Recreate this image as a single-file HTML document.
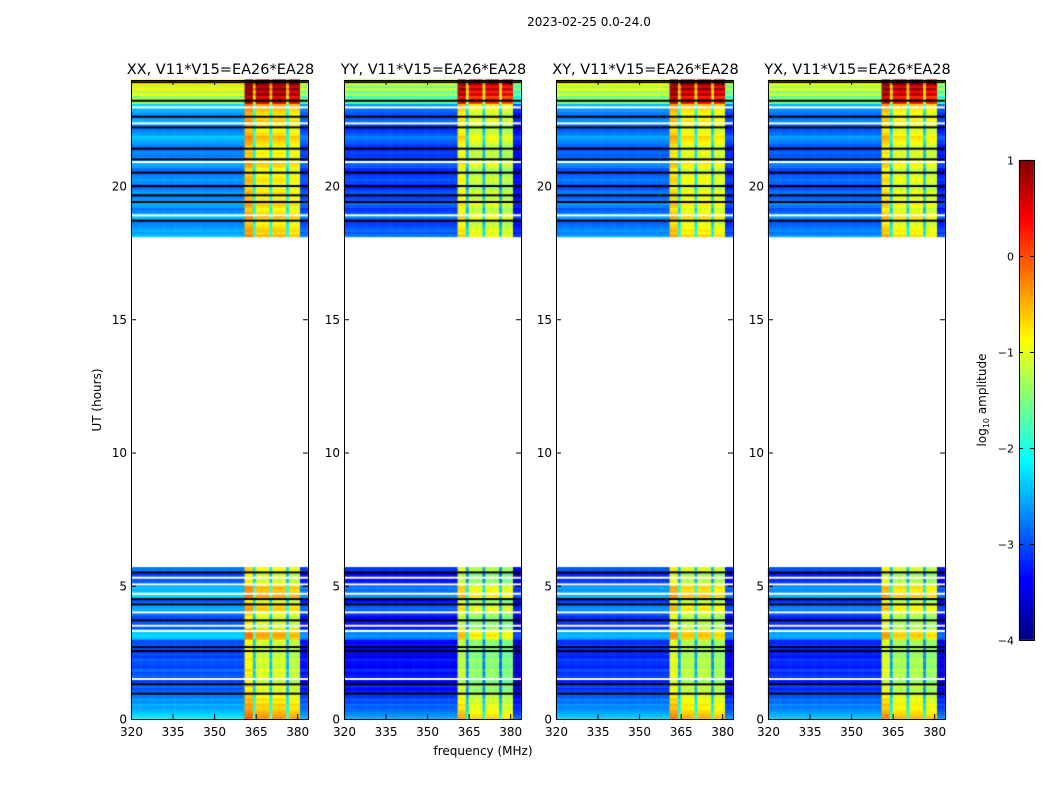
<!DOCTYPE html>
<html><head><meta charset="utf-8"><style>
body{margin:0;background:#fff;width:1050px;height:800px;overflow:hidden;position:relative;font-family:"DejaVu Sans","Liberation Sans",sans-serif}
canvas{position:absolute;left:0;top:0}
svg{position:absolute;left:0;top:0;font-family:"DejaVu Sans","Liberation Sans",sans-serif}
</style></head><body>
<canvas id="cv" width="1050" height="800"></canvas>
<svg id="sv" width="1050" height="800"></svg>
<script>
// ---- data ----
const panelTitles = ["XX, V11*V15=EA26*EA28","YY, V11*V15=EA26*EA28","XY, V11*V15=EA26*EA28","YX, V11*V15=EA26*EA28"];
const panelOffset = [0.0, -0.35, -0.15, -0.2];
const freqStart = 320;
const colProfile = [];
for (let f = 320; f < 384; f++) {
  let v = -2.9;
  if (f >= 361 && f <= 363) v = -0.75;
  else if (f === 364) v = -2.3;
  else if (f >= 365 && f <= 369) v = -1.0;
  else if (f === 370) v = -2.3;
  else if (f >= 371 && f <= 375) v = -1.0;
  else if (f === 376) v = -2.4;
  else if (f >= 377 && f <= 380) v = -1.1;
  else if (f >= 381) v = -3.2;
  colProfile.push(v);
}
// row offsets, 0.1 hr steps from 0.0 to 5.7
const lowRows = [0.7,0.6,0.5,0.4,0.3,0.4,0.2,0.3,0.1,0.2,0.0,-0.1,0.1,-0.1,-0.2,-0.1,0.0,-0.1,0.1,-0.2,-0.1,-0.1,0.0,-0.2,-0.1,-0.3,-0.1,0.0,-0.1,-0.1,0.5,0.6,0.5,0.4,-0.1,-0.2,0.0,-0.1,-0.1,0.1,0.3,0.4,0.3,0.2,-0.1,0.5,0.6,0.5,0.4,0.5,0.1,0.0,-0.1,0.0,-0.2,0.2,0.1];
// row offsets, 0.1 hr steps from 18.1 to 24.0
const highRows = [0.5,0.3,0.4,0.3,0.2,0.1,0.3,0.5,0.4,0.2,0.1,0.3,0.4,0.3,0.2,0.1,0.3,0.2,0.0,0.1,0.2,0.3,0.2,0.1,0.0,0.1,0.3,0.4,0.2,0.3,0.1,0.2,0.1,0.0,0.2,0.3,0.4,0.5,0.3,0.2,0.1,0.3,0.2,0.4,0.3,0.2,0.3,0.4,0.5,0.6,1.5,1.9,1.4,2.0,1.6,2.1,1.7,2.2,2.0];
const blackRows = [0.95,1.3,2.55,2.7,3.7,4.3,4.5,5.5,18.7,19.4,19.65,20.0,20.5,21.0,21.4,22.2,22.6,23.2,23.9];
const whiteRows = [1.5,3.3,3.5,4.0,4.7,5.05,5.3,18.9,20.9,22.35,22.95];
const yTicks = [0,5,10,15,20];
const xTicks = [320,335,350,365,380];
const cbTicks = [1,0,-1,-2,-3,-4];

// ---- geometry ----
const panelX = [131,344,556,768], PW = 177, TOP = 80, BOT = 719;
const pxPerHr = 26.65, pxPerMHz = 2.77;
const yT = t => BOT - t*pxPerHr;
const xF = (p,f) => panelX[p] + (f-freqStart)*pxPerMHz;
const CB = {x:1019, w:15, top:160, bot:640, vmax:1, vmin:-4};
const yCB = v => CB.top + (CB.vmax - v)/(CB.vmax-CB.vmin)*(CB.bot-CB.top);

function jet(v){
  let x = (v - CB.vmin)/(CB.vmax-CB.vmin); x = Math.max(0,Math.min(1,x));
  const c = t => Math.max(0,Math.min(1,t));
  const r = c(Math.min(4*x-1.5, -4*x+4.5)), g = c(Math.min(4*x-0.5,-4*x+3.5)), b = c(Math.min(4*x+0.5,-4*x+2.5));
  return `rgb(${Math.round(r*255)},${Math.round(g*255)},${Math.round(b*255)})`;
}

const ctx = document.getElementById('cv').getContext('2d');
function drawBlock(p, rows, t0){
  rows.forEach((rv,i)=>{
    const ta = t0 + i*0.1, tb = ta + 0.1;
    colProfile.forEach((cv,j)=>{
      const f = freqStart + j;
      ctx.fillStyle = jet(cv + rv + panelOffset[p]);
      const x0 = xF(p,f), x1 = Math.min(xF(p,f+1), panelX[p]+PW);
      ctx.fillRect(x0, yT(tb), x1-x0+0.5, yT(ta)-yT(tb)+0.5);
    });
  });
  blackRows.forEach(t=>{ if(t>=t0 && t<=t0+rows.length*0.1){ctx.fillStyle='#000';ctx.fillRect(panelX[p],yT(t)-1,PW,2);} });
  whiteRows.forEach(t=>{ if(t>=t0 && t<=t0+rows.length*0.1){ctx.fillStyle='#fff';ctx.fillRect(panelX[p],yT(t)-1,PW,2);} });
}
for(let p=0;p<4;p++){ drawBlock(p, lowRows, 0); drawBlock(p, highRows, 18.1); }
for(let y=CB.top;y<CB.bot;y++){ ctx.fillStyle = jet(CB.vmax - (y-CB.top+0.5)/(CB.bot-CB.top)*(CB.vmax-CB.vmin)); ctx.fillRect(CB.x,y,CB.w,1); }

// ---- overlay ----
const sv = document.getElementById('sv'), NS='http://www.w3.org/2000/svg';
function mk(tag, attrs, parent, text){
  const e = document.createElementNS(NS, tag);
  for(const k in attrs) e.setAttribute(k, attrs[k]);
  if(text!==undefined) e.textContent = text;
  (parent||sv).appendChild(e); return e;
}
let t = mk('text',{x:589,y:26,'font-size':12,'text-anchor':'middle'},sv,'2023-02-25 0.0-24.0');
 
for(let p=0;p<4;p++){
  const g = mk('g',{});
  
  
  const fr = mk('rect',{x:panelX[p]+0.5,y:TOP+0.5,width:PW,height:BOT-TOP,fill:'none',stroke:'#000','stroke-width':1},g);
  
  
  const tt = mk('text',{x:panelX[p]+PW/2+1,y:74,'font-size':14.5,'text-anchor':'middle'},g,panelTitles[p]);
  
  
  yTicks.forEach(v=>{
    const y = yT(v)+0.5;
    mk('line',{x1:panelX[p],x2:panelX[p]+5,y1:y,y2:y,stroke:'#000'},g);
    mk('line',{x1:panelX[p]+PW-5,x2:panelX[p]+PW,y1:y,y2:y,stroke:'#000'},g);
    const l = mk('text',{x:panelX[p]-4,y:y+4,'font-size':12,'text-anchor':'end'},g,String(v));
    
    
  });
  xTicks.forEach(v=>{
    const x = xF(p,v)+0.5;
    mk('line',{x1:x,x2:x,y1:BOT-5,y2:BOT,stroke:'#000'},g);
    mk('line',{x1:x,x2:x,y1:TOP,y2:TOP+5,stroke:'#000'},g);
    const l = mk('text',{x:x,y:BOT+17,'font-size':12,'text-anchor':'middle'},g,String(v));
    
    
  });
}
t = mk('text',{x:483,y:755,'font-size':12,'text-anchor':'middle'},sv,'frequency (MHz)');
 
t = mk('text',{x:101,y:400,'font-size':12,'text-anchor':'middle',transform:'rotate(-90 101 400)'},sv,'UT (hours)');
 
const cbr = mk('rect',{x:CB.x+0.5,y:CB.top+0.5,width:CB.w,height:CB.bot-CB.top,fill:'none',stroke:'#000'});
 
cbTicks.forEach(v=>{
  const y = yCB(v)+0.5;
  mk('line',{x1:CB.x,x2:CB.x+4,y1:y,y2:y,stroke:'#000'});
  mk('line',{x1:CB.x+CB.w-4,x2:CB.x+CB.w,y1:y,y2:y,stroke:'#000'});
  const l = mk('text',{x:CB.x-5,y:y+4,'font-size':11,'text-anchor':'end'},sv,String(v).replace('-','\u2212'));
   
});
t = mk('text',{x:986,y:400,'font-size':12,'text-anchor':'middle',transform:'rotate(-90 986 400)'},sv);
 
mk('tspan',{},t,'log');
mk('tspan',{'font-size':8,dy:3},t,'10');
mk('tspan',{dy:-3},t,' amplitude');
</script>
</body></html>
